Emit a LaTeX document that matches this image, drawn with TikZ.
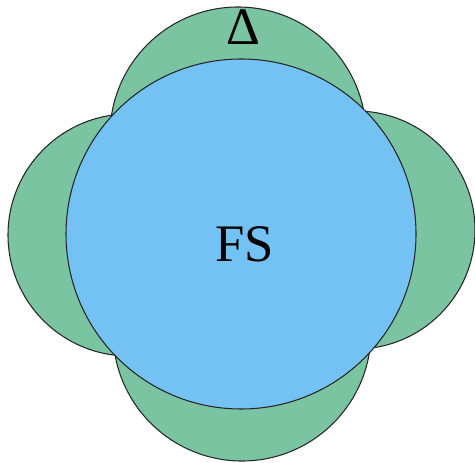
\documentclass[tikz,border=0pt]{standalone}
\usepackage{fontspec}
\setmainfont{Liberation Serif}
\definecolor{lobegreen}{RGB}{122,196,162}
\definecolor{fsblue}{RGB}{115,194,243}
\begin{document}
\begin{tikzpicture}[x=0.02cm,y=-0.02cm]
            \useasboundingbox (0,0) rectangle (475,462);
            \tikzset{lobe/.style={draw=black!85, fill=lobegreen, line width=0.6pt}}

            % Gap lobes
            \draw[lobe] (238,135) circle [radius=128];
            \draw[lobe] (129,235) circle [radius=121];
            \draw[lobe] (356,230) circle [radius=119];
            \draw[lobe] (242,332) circle [radius=129];

            % Fermi surface
            \draw[draw=black!85, fill=fsblue, line width=0.6pt] (241,234) circle [radius=175];

            % Labels
            \node[font=\fontsize{30}{30}\selectfont] (fs) at (245,244.5) {FS};
            \node[font=\fontsize{30}{30}\selectfont] (gap) at (243,27.5) {Δ};
        \end{tikzpicture}
\end{document}
